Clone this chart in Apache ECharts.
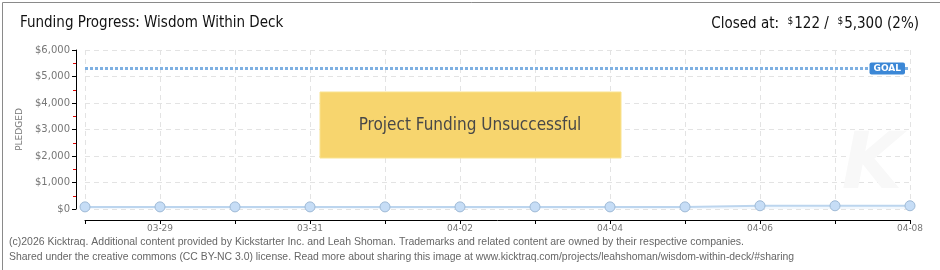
<!DOCTYPE html>
<html><head><meta charset="utf-8">
<script src="https://cdn.jsdelivr.net/npm/echarts@6/dist/echarts.min.js"></script>
<style>html,body{margin:0;padding:0;background:#fff}#c{width:940px;height:270px}</style>
</head><body><div id="c"></div>
<script>
const categories = ['03-28','03-29','03-30','03-31','04-01','04-02','04-03','04-04','04-05','04-06','04-07','04-08'];
const pledged = [80,80,80,80,80,80,80,80,80,122,122,122];
const goal = 5300;
const yTicks = {min:0, max:6000, interval:1000};
const titleText = 'Funding Progress: Wisdom Within Deck';
const footer1 = '(c)2026 Kicktraq. Additional content provided by Kickstarter Inc. and Leah Shoman. Trademarks and related content are owned by their respective companies.';
const footer2 = 'Shared under the creative commons (CC BY-NC 3.0) license. Read more about sharing this image at www.kicktraq.com/projects/leahshoman/wisdom-within-deck/#sharing';

const chart = echarts.init(document.getElementById('c'), null, {renderer:'canvas'});
const titleFont = '"Liberation Sans Narrow", "DejaVu Sans Condensed", sans-serif';
chart.setOption({
  animation:false,
  backgroundColor:'#fff',
  grid:{left:85, right:30, top:50, bottom:61},
  xAxis:{
    type:'category', data:categories, boundaryGap:false, offset:11,
    axisLine:{show:true, onZero:false, lineStyle:{color:'#000', width:1}},
    axisTick:{show:true, interval:0, length:4, lineStyle:{color:'#000'}},
    axisLabel:{interval:(i)=>i%2===1, color:'#777', fontFamily:'DejaVu Sans', fontSize:9, margin:4},
    splitLine:{show:true, interval:0, lineStyle:{color:'#e3e3e3', type:[5,4]}}
  },
  yAxis:{
    type:'value', min:yTicks.min, max:yTicks.max, interval:yTicks.interval, offset:9,
    name:'PLEDGED', nameLocation:'middle', nameRotate:90, nameGap:52,
    nameTextStyle:{color:'#777', fontFamily:'DejaVu Sans', fontSize:9},
    axisLine:{show:true, lineStyle:{color:'#000', width:1}},
    axisTick:{show:true, length:4, lineStyle:{color:'#000'}},
    minorTick:{show:true, splitNumber:2, length:3, lineStyle:{color:'#e00000'}},
    axisLabel:{color:'#777', fontFamily:'DejaVu Sans', fontSize:10, margin:6,
      formatter:(v)=>'$'+v.toLocaleString('en-US')},
    splitLine:{show:true, lineStyle:{color:'#e3e3e3', type:[5,4]}}
  },
  series:[{
    type:'line', data:pledged,
    symbol:'circle', symbolSize:10,
    lineStyle:{color:'#bcd5ee', width:2},
    itemStyle:{color:'#c6ddf6', borderColor:'#9fbad6', borderWidth:1},
    areaStyle:{color:'#eef5fc'},
    markLine:{
      silent:true, symbol:'none',
      lineStyle:{color:'#7eb0e2', width:3, type:[3,2]},
      label:{show:true, position:'insideEnd', formatter:'GOAL', color:'#fff',
        backgroundColor:'#3b87d6', fontFamily:'DejaVu Sans', fontWeight:'bold', fontSize:9,
        padding:[2,4,1,4], borderRadius:2, distance:5},
      data:[{yAxis:goal}]
    }
  }],
  graphic:[
    {type:'rect', left:0, top:0, shape:{x:0,y:0,width:939,height:269}, style:{fill:'none', stroke:'#8a8a8a', lineWidth:1}, z:100},
    {type:'text', left:20, top:16, style:{text:titleText, fill:'#111', font:'15px '+titleFont}},
    {type:'text', right:21, top:16, style:{
      text:'{n|Closed at:  }{s|$}{n|122 /  }{s|$}{n|5,300 (2%)}',
      rich:{n:{fill:'#111', font:'15px '+titleFont}, s:{fill:'#111', font:'10px '+titleFont, verticalAlign:'top', padding:[0,1,6,0]}}
    }},
    {type:'rect', shape:{x:320,y:92,width:301,height:66}, style:{fill:'#f7d56e', stroke:'#f9e390', lineWidth:1}, z:50},
    {type:'text', x:470, y:126, z:51, style:{text:'Project Funding Unsuccessful', fill:'#484848', font:'17px '+titleFont,
      align:'center', verticalAlign:'middle', textShadowColor:'#fff', textShadowOffsetX:1, textShadowOffsetY:1, textShadowBlur:0}},
    {type:'text', x:872, y:168, z:1, style:{text:'K', fill:'#f8f8f8', font:'italic bold 78px "DejaVu Sans"', align:'center', verticalAlign:'middle'}},
    {type:'text', left:9, top:237, style:{text:footer1, fill:'#666', font:'10.5px "Liberation Sans", sans-serif'}},
    {type:'text', left:9, top:252, style:{text:footer2, fill:'#666', font:'10.4px "Liberation Sans", sans-serif'}}
  ]
});
</script></body></html>
